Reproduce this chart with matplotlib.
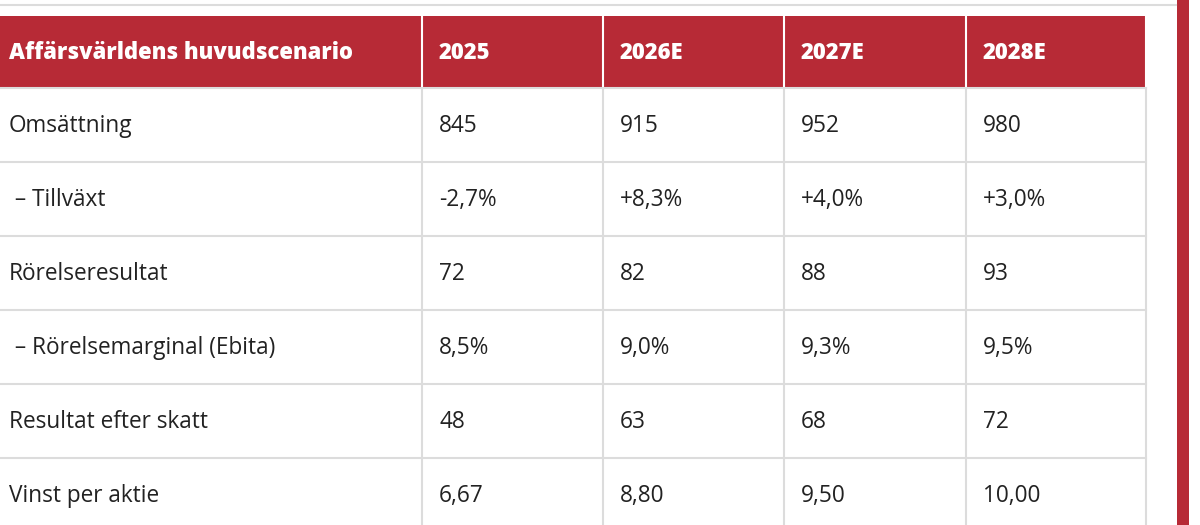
import matplotlib
matplotlib.use('Agg')
import matplotlib.pyplot as plt
from matplotlib.patches import Rectangle

# tabellens innehåll
header = ["Affärsvärldens huvudscenario", "2025", "2026E", "2027E", "2028E"]
row_labels = ["Omsättning", " \u2013 Tillväxt", "Rörelseresultat",
              " \u2013 Rörelsemarginal (Ebita)", "Resultat efter skatt", "Vinst per aktie"]
col_2025 = ["845", "-2,7%", "72", "8,5%", "48", "6,67"]
col_2026 = ["915", "+8,3%", "82", "9,0%", "63", "8,80"]
col_2027 = ["952", "+4,0%", "88", "9,3%", "68", "9,50"]
col_2028 = ["980", "+3,0%", "93", "9,5%", "72", "10,00"]
columns = [row_labels, col_2025, col_2026, col_2027, col_2028]

RED = "#b72a36"
GRID = "#dcdcdc"
TXT = "#222222"

plt.rcParams['font.family'] = ['Open Sans', 'DejaVu Sans']

fig = plt.figure(figsize=(12, 5.25), dpi=100)
ax = fig.add_axes([0, 0, 1, 1])
ax.set_xlim(0, 1200)
ax.set_ylim(525, 0)
ax.axis('off')

col_edges = [-2, 422, 603, 784, 966, 1146]
head_top, head_bot = 16, 88
row_h = 74

# grå linje överst och röd kant till höger
ax.plot([0, 1176], [5, 5], color=GRID, lw=1.5)
ax.add_patch(Rectangle((1177, 0), 12, 525, color=RED, lw=0))

# rubrikrad
ax.add_patch(Rectangle((0, head_top), col_edges[-1], head_bot - head_top, color=RED, lw=0))
for i, h in enumerate(header):
    x = 9 if i == 0 else col_edges[i] + 17
    ax.text(x, head_top + 43, h, color='white', fontsize=15.8,
            fontweight='extra bold', va='baseline', ha='left')

# linjer i tabellen
n = len(row_labels)
for r in range(n + 1):
    y = head_bot + r * row_h
    ax.plot([0, col_edges[-1]], [y, y], color=GRID, lw=1.5)
for xe in col_edges[1:]:
    ax.plot([xe, xe], [head_top, head_bot], color='white', lw=1.5)
    ax.plot([xe, xe], [head_bot, 525], color=GRID, lw=1.5)

for c, col in enumerate(columns):
    x = 9 if c == 0 else col_edges[c] + 17
    for r, val in enumerate(col):
        y = head_bot + r * row_h + 44
        ax.text(x, y, val, color=TXT, fontsize=16.3, va='baseline', ha='left')

fig.savefig("out.png", dpi=100, facecolor='white')
